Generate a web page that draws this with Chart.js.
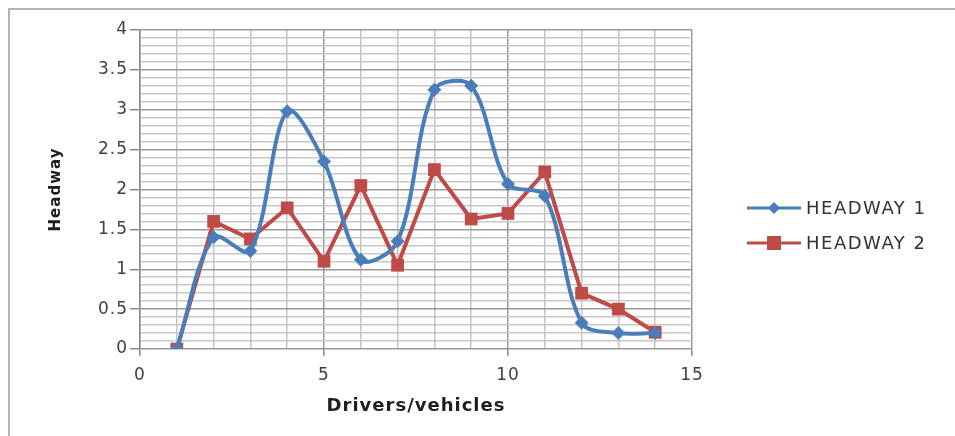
<!DOCTYPE html>
<html>
<head>
<meta charset="utf-8">
<script src="https://cdn.jsdelivr.net/npm/chart.js@4"></script>
<style>
    html, body { margin: 0; padding: 0; background: #fff; }
    #wrap { width: 955px; height: 436px; position: relative; }
</style>
</head>
<body>
<div id="wrap"><canvas id="chartHeadway"></canvas></div>
<script>
const drivers = [1, 2, 3, 4, 5, 6, 7, 8, 9, 10, 11, 12, 13, 14];
const headway1 = [0, 1.4, 1.23, 2.98, 2.35, 1.12, 1.35, 3.25, 3.3, 2.07, 1.92, 0.33, 0.2, 0.2];
const headway2 = [0, 1.6, 1.38, 1.77, 1.1, 2.05, 1.05, 2.25, 1.63, 1.7, 2.22, 0.7, 0.5, 0.21];
const seriesNames = ["HEADWAY 1", "HEADWAY 2"];
const xLabels = [0, 5, 10, 15];
const yLabels = [0, 0.5, 1, 1.5, 2, 2.5, 3, 3.5, 4];

const BLUE = "#4a7ebb";
const RED = "#be4b48";
const TEXT = "#404040";
const TITLE = "#1e1e1e";

function isYMajor(v) {
    return yLabels.some(l => Math.abs(l - v) < 1e-6);
}
function isXMajor(v) {
    return xLabels.some(l => Math.abs(l - v) < 1e-6);
}

// excel style frame + legend
const extras = {
    id: "extras",
    beforeDraw(chart) {
        const ctx = chart.ctx;
        ctx.save();
        ctx.strokeStyle = "#b4b4b4";
        ctx.lineWidth = 2;
        ctx.beginPath();
        ctx.moveTo(9, 436);
        ctx.lineTo(9, 9);
        ctx.lineTo(955, 9);
        ctx.stroke();
        ctx.restore();
        ctx.letterSpacing = "1px";
    },
    afterDraw(chart) {
        const ctx = chart.ctx;
        const ys = [208, 243];
        chart.data.datasets.forEach((ds, i) => {
            const y = ys[i];
            ctx.save();
            ctx.strokeStyle = ds.borderColor;
            ctx.lineWidth = 3;
            ctx.beginPath();
            ctx.moveTo(747, y);
            ctx.lineTo(801, y);
            ctx.stroke();
            ctx.fillStyle = ds.borderColor;
            if (ds.pointStyle === "rect") {
                ctx.fillRect(767, y - 7, 14, 14);
            } else {
                ctx.beginPath();
                ctx.moveTo(774, y - 6);
                ctx.lineTo(780, y);
                ctx.lineTo(774, y + 6);
                ctx.lineTo(768, y);
                ctx.closePath();
                ctx.fill();
            }
            ctx.fillStyle = "#333";
            ctx.font = "18px 'DejaVu Sans'";
            ctx.letterSpacing = "1.5px";
            ctx.textBaseline = "middle";
            ctx.textAlign = "left";
            ctx.fillText(ds.label, 806, y + 1);
            ctx.restore();
        });
    }
};

new Chart(document.getElementById("chartHeadway"), {
    type: "line",
    data: {
        datasets: [{
            label: seriesNames[0],
            data: drivers.map((d, i) => ({ x: d, y: headway1[i] })),
            borderColor: BLUE,
            backgroundColor: BLUE,
            borderWidth: 4,
            tension: 0.33,
            pointStyle: "rectRot",
            pointRadius: 7,
            pointBorderWidth: 0,
        }, {
            label: seriesNames[1],
            data: drivers.map((d, i) => ({ x: d, y: headway2[i] })),
            borderColor: RED,
            backgroundColor: RED,
            borderWidth: 4,
            tension: 0,
            pointStyle: "rect",
            pointRadius: 9,
            pointBorderWidth: 0,
        }]
    },
    options: {
        responsive: true,
        maintainAspectRatio: false,
        animation: false,
        layout: { padding: { left: 0, top: 30, right: 263, bottom: 0 } },
        plugins: { legend: { display: false }, tooltip: { enabled: false } },
        scales: {
            x: {
                type: "linear",
                min: 0,
                max: 15,
                afterFit(scale) { scale.height = 87; },
                afterBuildTicks(scale) {
                    scale.ticks = [];
                    for (let v = 0; v <= 15; v++) scale.ticks.push({ value: v });
                },
                ticks: {
                    color: TEXT,
                    font: { family: "DejaVu Sans", size: 17 },
                    padding: 9,
                    maxRotation: 0,
                    autoSkip: false,
                    callback: v => isXMajor(v) ? String(v) : ""
                },
                grid: {
                    color: ctx => ctx.tick && isXMajor(ctx.tick.value) ? "#9a9a9a" : "#c4c4c4",
                    lineWidth: 1.5,
                    tickLength: 7,
                    tickColor: ctx => ctx.tick && isXMajor(ctx.tick.value) ? "#8c8c8c" : "rgba(0,0,0,0)"
                },
                border: { display: false },
                title: {
                    display: true,
                    text: "Drivers/vehicles",
                    color: TITLE,
                    font: { family: "DejaVu Sans", size: 18, weight: "bold" },
                    padding: { top: 0, bottom: 19 }
                }
            },
            y: {
                min: 0,
                max: 4,
                afterFit(scale) { scale.width = 140; },
                afterBuildTicks(scale) {
                    scale.ticks = [];
                    for (let i = 0; i <= 40; i++) scale.ticks.push({ value: i / 10 });
                },
                ticks: {
                    color: TEXT,
                    font: { family: "DejaVu Sans", size: 17 },
                    padding: 2,
                    autoSkip: false,
                    callback: v => isYMajor(v) ? String(v) : ""
                },
                grid: {
                    color: ctx => ctx.tick && isYMajor(ctx.tick.value) ? "#9a9a9a" : "#c8c8c8",
                    lineWidth: 1.5,
                    tickLength: 10,
                    tickColor: ctx => ctx.tick && isYMajor(ctx.tick.value) ? "#8c8c8c" : "rgba(0,0,0,0)"
                },
                border: { display: true, color: "#8c8c8c", width: 1.5 },
                title: {
                    display: true,
                    text: "Headway",
                    color: TITLE,
                    font: { family: "DejaVu Sans", size: 15, weight: "bold" },
                    padding: { top: 47, bottom: 0 }
                }
            }
        }
    },
    plugins: [extras]
});
</script>
</body>
</html>
